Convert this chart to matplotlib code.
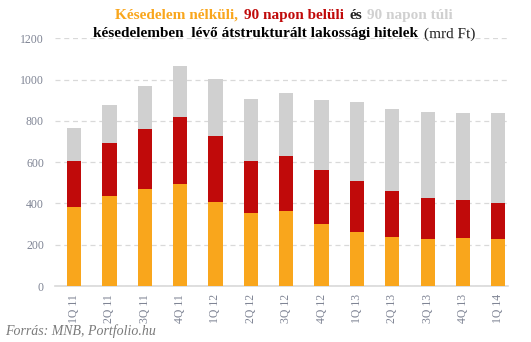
import matplotlib
matplotlib.use('Agg')
import matplotlib.pyplot as plt
import numpy as np
from matplotlib.offsetbox import TextArea, HPacker, VPacker, AnchoredOffsetbox

# Negyedéves adatok (mrd Ft), leolvasva az ábráról
quarters = ['1Q 11', '2Q 11', '3Q 11', '4Q 11', '1Q 12', '2Q 12', '3Q 12',
            '4Q 12', '1Q 13', '2Q 13', '3Q 13', '4Q 13', '1Q 14']
no_delay = [383, 436, 470, 494, 407, 353, 363, 300, 261, 237, 228, 232, 228]
within_90 = [222, 256, 290, 324, 319, 252, 267, 262, 247, 223, 198, 184, 174]
over_90 = [160, 184, 208, 247, 276, 301, 305, 339, 383, 397, 417, 422, 436]

c_orange = '#F9A61C'
c_red = '#C00A0A'
c_gray = '#D0D0D0'
tick_col = '#7F8494'

plt.rcParams['font.family'] = ['Liberation Serif', 'DejaVu Serif']

fig = plt.figure(figsize=(5.31, 3.42), dpi=100)
ax = fig.add_axes([0.1036, 0.1637, 0.8534, 0.7243])

x = np.arange(len(quarters))
w = 0.4
b1 = np.array(no_delay)
b2 = b1 + np.array(within_90)
ax.bar(x, no_delay, w, color=c_orange, zorder=3)
ax.bar(x, within_90, w, bottom=b1, color=c_red, zorder=3)
ax.bar(x, over_90, w, bottom=b2, color=c_gray, zorder=3)

ax.set_ylim(0, 1200)
ax.set_xlim(-0.54, 12.28)
ax.set_yticks(range(0, 1201, 200))
ax.yaxis.grid(True, color='#D9D9D9', linestyle=(0, (4, 3)), linewidth=0.9, zorder=0)
ax.set_xticks(x)
ax.set_xticklabels(quarters, rotation=90)
ax.tick_params(axis='both', length=0, colors=tick_col, labelsize=8.5)
ax.tick_params(axis='y', pad=8)
ax.tick_params(axis='x', pad=6)
for s in ['top', 'right', 'left']:
    ax.spines[s].set_visible(False)
ax.spines['bottom'].set_color('#D9D9D9')
ax.spines['bottom'].set_linewidth(1.2)

# Többszínű cím
fs = 11
line1 = HPacker(children=[
    TextArea('Késedelem nélküli,', textprops=dict(color=c_orange, weight='bold', size=fs)),
    TextArea('90 napon belüli', textprops=dict(color=c_red, weight='bold', size=fs)),
    TextArea('és', textprops=dict(color='#222222', weight='bold', size=fs)),
    TextArea('90 napon túli', textprops=dict(color=c_gray, weight='bold', size=fs)),
], sep=4, pad=0, align='baseline')
line2 = HPacker(children=[
    TextArea('késedelemben  lévő átstrukturált lakossági hitelek',
             textprops=dict(color='black', weight='bold', size=fs)),
    TextArea('(mrd Ft)', textprops=dict(color='#222222', size=fs)),
], sep=4, pad=0, align='baseline')
title = VPacker(children=[line1, line2], sep=4, pad=0, align='center')
box = AnchoredOffsetbox(loc='upper center', child=title, frameon=False,
                        bbox_to_anchor=(0.535, 0.975), bbox_transform=fig.transFigure,
                        borderpad=0, pad=0)
fig.add_artist(box)

fig.text(0.01, 0.02, 'Forrás: MNB, Portfolio.hu', style='italic', color='#7A7A7A',
         size=10, va='baseline')

fig.savefig('out.png', dpi=100)
